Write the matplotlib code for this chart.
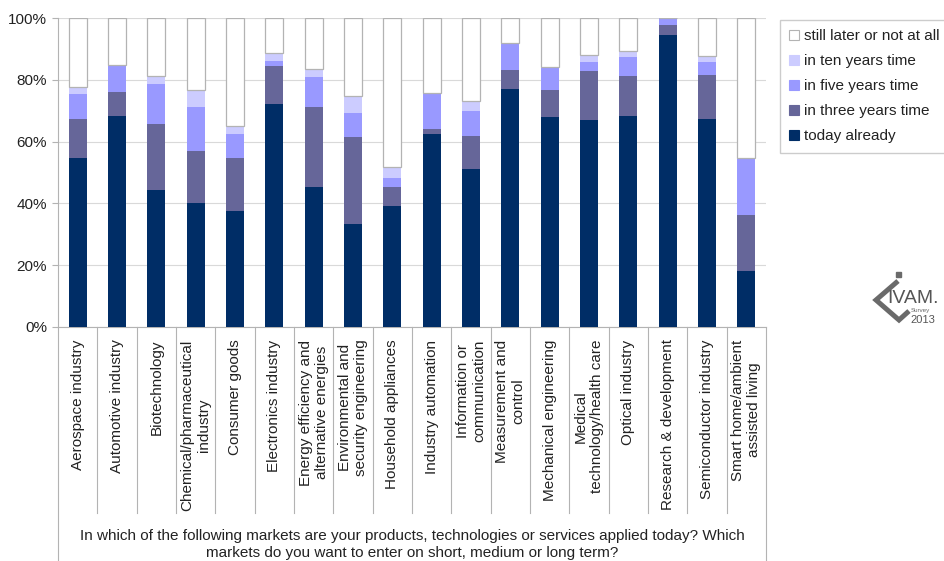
import numpy as np
import matplotlib
matplotlib.use("Agg")
import matplotlib.pyplot as plt
from matplotlib.patches import Patch, Rectangle
from matplotlib.transforms import blended_transform_factory

plt.rcParams['font.family'] = ['Liberation Sans', 'DejaVu Sans']
plt.rcParams['font.size'] = 11

markets = [
    'Aerospace industry', 'Automotive industry', 'Biotechnology',
    'Chemical/pharmaceutical\nindustry', 'Consumer goods', 'Electronics industry',
    'Energy efficiency and\nalternative energies', 'Environmental and\nsecurity engineering',
    'Household appliances', 'Industry automation', 'Information or\ncommunication',
    'Measurement and\ncontrol', 'Mechanical engineering', 'Medical\ntechnology/health care',
    'Optical industry', 'Research & development', 'Semiconductor industry',
    'Smart home/ambient\nassisted living',
]

# share of answers (%) per time horizon
today_already = [54.8, 68.4, 44.4, 40.1, 37.4, 72.3, 45.2, 33.2, 39.3, 62.3, 51.0, 77.0, 68.1, 66.9, 68.4, 94.6, 67.3, 18.1]
three_years   = [12.5, 7.8, 21.2, 16.7, 17.4, 12.1, 25.9, 28.3, 5.9, 1.8, 10.7, 6.1, 8.7, 15.9, 12.7, 3.0, 14.3, 18.1]
five_years    = [8.2, 8.5, 13.0, 14.3, 7.5, 1.8, 9.8, 7.7, 3.0, 11.5, 8.3, 8.8, 7.4, 3.1, 6.3, 2.4, 4.1, 18.5]
ten_years     = [2.1, 0.0, 2.5, 5.5, 2.9, 2.5, 2.5, 5.4, 3.5, 0.0, 3.1, 0.0, 0.0, 2.2, 2.0, 0.0, 2.1, 0.0]
still_later   = [22.4, 15.3, 18.9, 23.4, 34.8, 11.3, 16.6, 25.4, 48.3, 24.4, 26.9, 8.1, 15.8, 11.9, 10.6, 0.0, 12.2, 45.3]

series = [
    ('today already', today_already, '#002d66'),
    ('in three years time', three_years, '#666699'),
    ('in five years time', five_years, '#9999ff'),
    ('in ten years time', ten_years, '#ccccff'),
    ('still later or not at all', still_later, '#ffffff'),
]

question = ('In which of the following markets are your products, technologies or services applied today? Which\n'
            'markets do you want to enter on short, medium or long term?')

GRID = '#d9d9d9'
AXIS = '#b3b3b3'

fig = plt.figure(figsize=(9.45, 5.61), dpi=100)
ax = fig.add_axes([58 / 945, 1 - 327 / 561, 708 / 945, 309 / 561])

x = np.arange(len(markets))
bottom = np.zeros(len(markets))
for name, vals, color in series:
    vals = np.array(vals)
    if color == '#ffffff':
        ax.bar(x, vals, 0.46, bottom=bottom, color=color, edgecolor=AXIS, linewidth=0.9, zorder=3)
    else:
        ax.bar(x, vals, 0.46, bottom=bottom, color=color, linewidth=0, zorder=3)
    bottom += vals

ax.set_xlim(-0.5, len(markets) - 0.5)
ax.set_ylim(0, 100)
ax.set_yticks([0, 20, 40, 60, 80, 100])
ax.set_yticklabels(['0%', '20%', '40%', '60%', '80%', '100%'], color='#222222')
ax.yaxis.grid(True, color=GRID, linewidth=0.8, zorder=0)
ax.set_axisbelow(True)
ax.tick_params(axis='y', length=4, width=0.8, color=AXIS, pad=4)

ax.set_xticks(x)
ax.set_xticklabels(markets, rotation=90, color='#222222')
ax.tick_params(axis='x', length=0, pad=9)

for side in ['top', 'right']:
    ax.spines[side].set_visible(False)
for side in ['left', 'bottom']:
    ax.spines[side].set_color(AXIS)
    ax.spines[side].set_linewidth(0.8)

# separators between category labels
trans = blended_transform_factory(ax.transData, ax.transAxes)
for b in np.arange(len(markets) + 1) - 0.5:
    end = -0.76 if b in (-0.5, len(markets) - 0.5) else -0.603
    ax.plot([b, b], [0, end], color=AXIS, linewidth=0.8, transform=trans, clip_on=False)

fig.text(412 / 945, 1 - 529 / 561, question, ha='center', va='top', fontsize=11,
         color='#222222', linespacing=1.25)

handles = []
for name, vals, color in reversed(series):
    handles.append(Patch(facecolor=color, edgecolor=AXIS if color == '#ffffff' else color,
                         linewidth=0.8, label=name))
leg = fig.legend(handles=handles, loc='upper left', bbox_to_anchor=(780 / 945, 1 - 20 / 561),
                 frameon=True, fancybox=False, edgecolor='#cccccc', framealpha=1,
                 handlelength=0.65, handleheight=0.65, handletextpad=0.3,
                 labelspacing=0.72, borderpad=0.62, borderaxespad=0, fontsize=11)
for t in leg.get_texts():
    t.set_color('#222222')

# survey logo
logo = fig.add_axes([0, 0, 1, 1], zorder=5)
logo.set_xlim(0, 945)
logo.set_ylim(561, 0)
logo.axis('off')
logo.patch.set_alpha(0)
logo.plot([898, 876, 899, 909], [281, 300, 320, 311], color='#6a6a6a', linewidth=3.6,
          solid_joinstyle='miter', solid_capstyle='butt')
logo.add_patch(Rectangle((896, 272), 5, 5, color='#6a6a6a'))
logo.text(887, 303, 'IVAM.', fontsize=14, color='#555555', ha='left', va='baseline')
logo.text(911, 312, 'Survey', fontsize=4.5, color='#666666', ha='left', va='baseline')
logo.text(910, 323, '2013', fontsize=8, color='#555555', ha='left', va='baseline')

fig.savefig('out.png', dpi=100)
